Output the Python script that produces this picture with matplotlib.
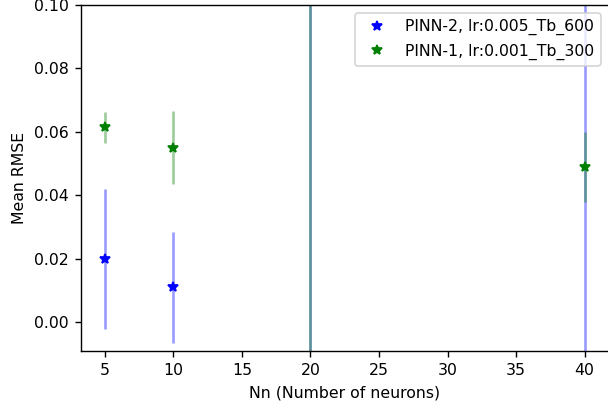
import numpy as np
import matplotlib.pyplot as plt

# Nn values (number of neurons)
nn = [5, 10, 20, 40]

# PINN-2, lr 0.005, Tb 600
pinn2_mean = [0.0199, 0.0109, 0.35, 0.21]
pinn2_std = [0.0221, 0.0175, 0.60, 0.45]

# PINN-1, lr 0.001, Tb 300
pinn1_mean = [0.0614, 0.0550, 0.30, 0.0490]
pinn1_std = [0.0050, 0.0115, 0.55, 0.0110]

plt.rcParams['font.size'] = 9.1

fig = plt.figure(figsize=(608 / 125, 409 / 125), dpi=125)
ax = fig.add_axes([81 / 608, 1 - 351 / 409, 527.5 / 608, 346 / 409])

ax.errorbar(nn, pinn2_mean, yerr=pinn2_std, fmt='none', ecolor='blue', alpha=0.4, elinewidth=1.5)
ax.plot(nn, pinn2_mean, '*', color='blue', markersize=6.2, label='PINN-2, lr:0.005_Tb_600')
ax.errorbar(nn, pinn1_mean, yerr=pinn1_std, fmt='none', ecolor='green', alpha=0.4, elinewidth=1.5)
ax.plot(nn, pinn1_mean, '*', color='green', markersize=6.2, label='PINN-1, lr:0.001_Tb_300')

ax.set_xlim(3.25, 41.75)
ax.set_ylim(-0.00915, 0.1)
ax.set_xticks([5, 10, 15, 20, 25, 30, 35, 40])
ax.set_yticks([0.0, 0.02, 0.04, 0.06, 0.08, 0.10])
ax.set_xlabel('Nn (Number of neurons)')
ax.set_ylabel('Mean RMSE')
ax.legend(loc='upper right')

fig.savefig('out.png', dpi=125)
